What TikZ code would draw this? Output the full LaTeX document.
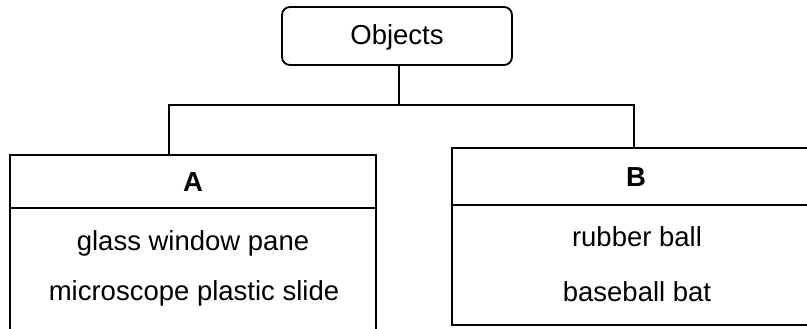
\documentclass[tikz,border=0pt]{standalone}
\usepackage{fontspec}
\setmainfont{Liberation Sans}
\tikzset{
  box/.style={draw=black, line width=1.8pt, inner sep=0pt},
  rootbox/.style={box, rounded corners=8pt},
  txt/.style={inner sep=0pt, font=\fontsize{27.5}{31}\selectfont},
  hdr/.style={txt, font=\fontsize{27.5}{31}\selectfont\bfseries},
  link/.style={draw=black, line width=1.8pt}
}
\begin{document}
\begin{tikzpicture}[x=1pt,y=-1pt]
\useasboundingbox (0,0) rectangle (807,329);
\clip (0,0) rectangle (807,329);
% root
\node[rootbox, minimum width=230pt, minimum height=58pt] (obj) at (397,36) {};
\node[txt] (objt) at (397,37) {Objects};
% box A
\node[box, minimum width=366pt, minimum height=53pt] (Ahead) at (193,181.5) {};
\node[box, minimum width=366pt, minimum height=137pt] (Abody) at (193,276.5) {};
\node[hdr] (At) at (193,182) {A};
\node[txt] (A1) at (193,243) {glass window pane};
\node[txt] (A2) at (194,293) {microscope plastic slide};
% box B
\node[box, minimum width=370pt, minimum height=57pt] (Bhead) at (637,176.5) {};
\node[box, minimum width=370pt, minimum height=120pt] (Bbody) at (637,265) {};
\node[hdr] (Bt) at (636,177) {B};
\node[txt] (B1) at (637,237) {rubber ball};
\node[txt] (B2) at (637,292) {baseball bat};
% connectors
\coordinate (j) at (399,105);
\draw[link] ([xshift=2pt]obj.south) -- (j);
\draw[link] ([xshift=160pt]Ahead.north west) |- (j) -| ([xshift=183pt]Bhead.north west);
\end{tikzpicture}
\end{document}
